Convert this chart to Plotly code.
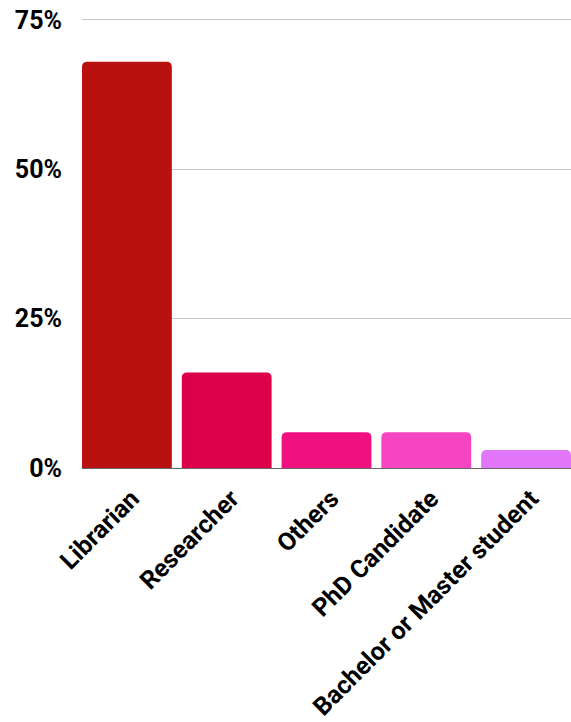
import plotly.graph_objects as go

categories = ["Librarian", "Researcher", "Others", "PhD Candidate", "Bachelor or Master student"]
values = [68, 16, 6, 6, 3]
colors = ["#B81110", "#DB0049", "#F01080", "#F545C2", "#E276FA"]
y_ticks = [0, 25, 50, 75]
y_tick_labels = ["0%", "25%", "50%", "75%"]

fig = go.Figure(go.Bar(
    x=categories, y=values,
    marker=dict(color=colors, line=dict(width=0), cornerradius=5),
    hoverinfo="skip",
))
fig.update_layout(
    width=571, height=722,
    margin=dict(l=82, r=0, t=18, b=254, pad=0),
    paper_bgcolor="white", plot_bgcolor="white",
    bargap=0.1,
    showlegend=False,
    font=dict(family="Roboto", color="black"),
)
fig.update_xaxes(
    range=[-0.45, 4.45],
    tickangle=-45, tickfont=dict(size=25, family="Roboto", weight="bold"),
    showgrid=False, showline=True, linecolor="#666666", linewidth=1,
    ticks="", ticklen=0, ticklabelstandoff=5, ticklabelshift=5,
    ticklabeloverflow="allow",
)
fig.update_yaxes(
    range=[0, 75.3], tickvals=y_ticks, ticktext=y_tick_labels,
    tickfont=dict(size=25, family="Roboto", weight="bold"),
    showgrid=True, gridcolor="#C8C8C8", gridwidth=1,
    zeroline=False, showline=False, ticklabelstandoff=19, ticklabeloverflow="allow",
)
fig.write_html(
    "out.html",
    config={"displayModeBar": False, "staticPlot": True},
    post_script="document.body.style.margin='0px';document.body.style.overflow='hidden';",
)
